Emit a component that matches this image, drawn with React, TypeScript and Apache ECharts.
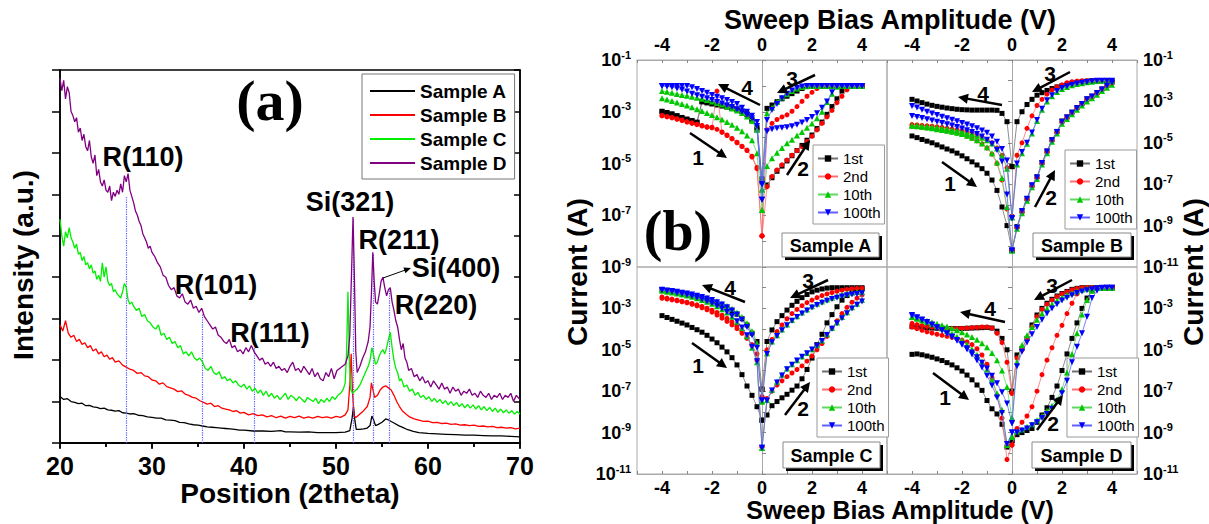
import React, { useEffect, useRef } from "react";
import * as echarts from "echarts";

const FONT = '"Liberation Sans", Arial, sans-serif';
const SERIF = '"Liberation Serif", "Times New Roman", serif';

// ---------- Panel (a): XRD patterns ----------
const XRD_NAMES = ["Sample A", "Sample B", "Sample C", "Sample D"];
const XRD_COLORS = ["#000000", "#ff0000", "#00ee00", "#800080"];

const TH_A = [20,20.4,20.8,21.2,21.6,22,22.4,22.8,23.2,23.6,24,24.4,24.8,25.2,25.6,26,26.4,26.8,27.2,27.6,28,28.5,29,29.5,30,30.5,31,31.5,32,32.5,33,33.5,34,34.5,35,35.5,36,36.5,37,37.5,38,38.5,39,39.5,40,41,42,43,44,44.5,45,46,47,48,49,50,51,51.5,51.75,51.9,52.05,52.2,52.6,53,53.4,53.7,53.9,54.05,54.3,54.6,55,55.4,55.7,56,56.4,56.8,57.3,57.8,58.4,59,60,61,62,63,64,65,66,67,68,69,70];
const INT_A = [1.12,1.05,1.07,1.0,0.98,0.95,0.96,0.9,0.91,0.87,0.86,0.83,0.84,0.8,0.79,0.77,0.78,0.73,0.72,0.7,0.71,0.67,0.66,0.63,0.62,0.6,0.6,0.56,0.55,0.54,0.5,0.49,0.46,0.44,0.43,0.41,0.39,0.38,0.37,0.36,0.35,0.34,0.33,0.31,0.31,0.29,0.29,0.28,0.3,0.27,0.27,0.26,0.27,0.25,0.25,0.25,0.26,0.3,0.6,0.88,0.55,0.33,0.33,0.34,0.36,0.42,0.65,0.58,0.42,0.45,0.5,0.58,0.56,0.52,0.47,0.42,0.37,0.32,0.28,0.25,0.23,0.22,0.21,0.2,0.19,0.19,0.18,0.17,0.17,0.16,0.15];

const TH_B = [20,20.3,20.6,20.9,21.2,21.5,21.8,22.1,22.4,22.7,23,23.3,23.6,23.9,24.2,24.5,24.8,25.1,25.4,25.7,26,26.4,26.8,27.2,27.6,28,28.4,28.8,29.2,29.6,30,30.4,30.8,31.2,31.6,32,32.4,32.8,33.2,33.6,34,34.4,34.8,35.2,35.6,36,36.4,36.8,37.2,37.6,38,38.4,38.8,39.2,39.6,40,40.5,41,41.5,42,42.5,43,43.5,44,44.5,45,45.5,46,46.5,47,47.5,48,48.5,49,49.5,50,50.5,51,51.3,51.5,51.65,51.8,51.95,52.2,52.6,53,53.4,53.7,53.85,54,54.2,54.5,54.8,55.1,55.4,55.7,56,56.3,56.6,56.9,57.2,57.6,58,58.5,59,59.5,60,60.5,61,61.5,62,62.5,63,63.5,64,64.5,65,65.5,66,66.5,67,67.5,68,68.5,69,69.5,70];
const INT_B = [2.85,2.7,2.95,2.65,2.55,2.6,2.45,2.5,2.38,2.42,2.3,2.35,2.22,2.27,2.15,2.2,2.08,2.12,2.02,2.06,1.95,1.98,1.88,1.83,1.78,1.75,1.68,1.7,1.62,1.6,1.52,1.5,1.42,1.45,1.36,1.33,1.3,1.24,1.26,1.18,1.15,1.1,1.08,1.02,0.98,0.94,0.96,0.88,0.9,0.84,0.82,0.8,0.76,0.78,0.72,0.74,0.68,0.71,0.66,0.68,0.63,0.66,0.61,0.65,0.6,0.64,0.61,0.65,0.6,0.63,0.6,0.64,0.61,0.63,0.6,0.64,0.62,0.68,0.8,1.4,2.15,1.2,0.65,0.62,0.7,0.78,0.88,1.1,1.45,1.3,1.1,1.15,1.28,1.35,1.38,1.33,1.28,1.15,1.0,0.88,0.78,0.7,0.63,0.58,0.55,0.52,0.53,0.49,0.5,0.47,0.48,0.45,0.46,0.43,0.44,0.42,0.43,0.4,0.41,0.39,0.4,0.37,0.38,0.36,0.37,0.34,0.36];

const TH_C = [20,20.2,20.4,20.6,20.8,21,21.2,21.4,21.6,21.8,22,22.2,22.4,22.6,22.8,23,23.2,23.4,23.6,23.8,24,24.2,24.4,24.6,24.8,25,25.2,25.4,25.6,25.8,26,26.2,26.4,26.6,26.8,27,27.2,27.4,27.6,27.8,28,28.3,28.6,28.9,29.2,29.5,29.8,30.1,30.4,30.7,31,31.3,31.6,31.9,32.2,32.5,32.8,33.1,33.4,33.7,34,34.3,34.6,34.9,35.2,35.5,35.8,36.1,36.4,36.7,37,37.3,37.6,37.9,38.2,38.5,38.8,39.1,39.4,39.7,40,40.3,40.6,40.9,41.2,41.5,41.8,42.1,42.4,42.7,43,43.3,43.6,43.9,44.2,44.5,44.8,45.1,45.4,45.7,46,46.3,46.6,46.9,47.2,47.5,47.8,48.1,48.4,48.7,49,49.3,49.6,49.9,50.2,50.5,50.8,51,51.15,51.3,51.45,51.6,51.8,52,52.3,52.6,52.9,53.2,53.5,53.7,53.9,54.1,54.3,54.5,54.7,54.9,55.1,55.3,55.5,55.7,55.9,56.1,56.3,56.5,56.7,56.9,57.1,57.4,57.7,58,58.3,58.6,58.9,59.2,59.5,59.8,60.1,60.4,60.7,61,61.3,61.6,61.9,62.2,62.5,62.8,63.1,63.4,63.7,64,64.3,64.6,64.9,65.2,65.5,65.8,66.1,66.4,66.7,67,67.3,67.6,67.9,68.2,68.5,68.8,69.1,69.4,69.7,70];
const INT_C = [5.4,5.0,4.75,5.1,4.95,5.2,4.95,4.85,4.7,4.8,4.55,4.6,4.4,4.5,4.3,4.35,4.2,4.3,4.1,4.15,3.95,4.05,3.9,4.35,4.0,4.25,3.9,3.8,3.85,3.65,3.7,3.6,3.55,3.5,3.65,3.85,3.75,3.45,3.35,3.4,3.3,3.2,3.25,3.05,3.1,2.95,2.9,2.8,2.75,2.85,2.6,2.65,2.5,2.55,2.4,2.45,2.3,2.35,2.15,2.2,2.1,2.2,2.05,2.0,2.05,1.95,1.8,1.75,1.85,1.7,1.65,1.72,1.55,1.6,1.5,1.55,1.45,1.5,1.4,1.35,1.42,1.3,1.38,1.25,1.32,1.2,1.28,1.15,1.25,1.12,1.2,1.08,1.15,1.05,1.12,1.2,1.05,1.15,1.1,1.02,1.12,1.05,0.98,1.1,1.05,1.0,1.08,0.95,1.05,0.98,1.08,1.0,1.12,1.05,1.15,1.2,1.3,1.45,2.2,3.65,2.0,1.3,1.2,1.25,1.3,1.4,1.55,1.7,1.85,2.0,2.3,2.1,1.9,1.95,2.1,2.2,2.25,2.15,2.3,2.5,2.67,2.3,2.0,1.8,1.7,1.5,1.55,1.35,1.4,1.25,1.3,1.15,1.22,1.1,1.15,1.05,1.12,1.0,1.08,0.98,1.05,0.95,1.02,0.92,1.0,0.9,0.98,0.88,0.95,0.85,0.93,0.84,0.92,0.82,0.9,0.8,0.88,0.78,0.86,0.76,0.84,0.74,0.82,0.73,0.8,0.72,0.78,0.7,0.76,0.7];

const TH_D = [20,20.2,20.4,20.6,20.8,21,21.2,21.4,21.6,21.8,22,22.2,22.4,22.6,22.8,23,23.2,23.4,23.6,23.8,24,24.2,24.4,24.6,24.8,25,25.2,25.4,25.6,25.8,26,26.2,26.4,26.6,26.8,27,27.2,27.4,27.6,27.8,28,28.2,28.4,28.6,28.8,29,29.2,29.4,29.6,29.8,30,30.3,30.6,30.9,31.2,31.5,31.8,32.1,32.4,32.7,33,33.3,33.6,33.9,34.2,34.5,34.8,35.1,35.4,35.7,36,36.3,36.6,36.9,37.2,37.5,37.8,38.1,38.4,38.7,39,39.3,39.6,39.9,40.2,40.5,40.8,41.1,41.4,41.7,42,42.3,42.6,42.9,43.2,43.5,43.8,44.1,44.4,44.7,45,45.3,45.6,45.9,46.2,46.5,46.8,47.1,47.4,47.7,48,48.3,48.6,48.9,49.2,49.5,49.8,50.1,50.4,50.7,51,51.3,51.5,51.7,51.85,52,52.15,52.3,52.6,52.9,53.2,53.5,53.7,53.85,54,54.15,54.3,54.5,54.7,54.9,55.1,55.3,55.5,55.7,55.9,56.1,56.3,56.5,56.7,56.9,57.1,57.3,57.5,57.7,57.9,58.2,58.5,58.8,59.1,59.4,59.7,60,60.3,60.6,60.9,61.2,61.5,61.8,62.1,62.4,62.7,63,63.3,63.6,63.9,64.2,64.5,64.8,65.1,65.4,65.7,66,66.3,66.6,66.9,67.2,67.5,67.8,68.1,68.4,68.7,69,69.3,69.6,70];
const INT_D = [8.8,8.5,8.75,8.3,8.6,8.45,8.0,7.9,7.75,7.85,7.5,7.6,7.3,7.45,7.15,7.05,7.3,6.9,6.75,6.95,6.45,6.6,6.3,6.2,6.35,6.1,6.05,6.2,5.85,6.05,5.95,6.1,6.0,6.25,6.05,6.45,6.3,6.5,6.1,5.95,5.8,5.6,5.5,5.35,5.25,5.05,4.95,4.85,4.7,4.75,4.6,4.5,4.35,4.25,4.05,4.0,3.8,3.7,3.75,3.55,3.5,3.6,3.4,3.35,3.45,3.25,3.3,3.15,3.25,3.05,2.95,2.85,2.75,2.8,2.6,2.55,2.45,2.4,2.5,2.3,2.35,2.2,2.25,2.15,2.3,2.2,2.35,2.2,2.1,2.0,2.05,1.9,1.95,1.85,1.95,1.8,1.85,1.75,1.8,1.7,1.85,1.95,1.75,1.8,1.7,1.85,1.75,1.65,1.8,1.6,1.7,1.55,1.5,1.7,1.6,1.8,1.55,1.75,1.8,1.85,1.9,2.1,2.6,4.2,5.45,4.0,2.2,1.7,1.85,2.05,2.2,2.45,2.8,3.6,4.6,3.9,3.4,3.35,3.6,3.9,4.0,3.75,3.55,3.7,3.75,3.4,3.2,2.95,2.8,2.5,2.25,2.4,2.05,1.95,1.75,1.8,1.6,1.65,1.5,1.6,1.45,1.5,1.35,1.5,1.4,1.3,1.45,1.3,1.35,1.2,1.35,1.25,1.3,1.15,1.25,1.2,1.3,1.15,1.2,1.1,1.25,1.15,1.1,1.2,1.05,1.15,1.1,1.2,1.05,1.15,1.1,1.2,1.0,1.15,1.05];

const XRD_TH = [TH_A, TH_B, TH_C, TH_D];
const XRD_INT = [INT_A, INT_B, INT_C, INT_D];

// reference-peak dotted lines (2theta, height)
const REF_POS = [27.2, 35.5, 41.1, 51.9, 54.0, 55.8];
const REF_TOP = [5.93, 3.1, 2.3, 5.4, 4.55, 3.75];

// peak annotations (text, centre px)
const PEAK_TEXT = ["R(110)", "R(101)", "R(111)", "Si(321)", "R(211)", "Si(400)", "R(220)"];
const PEAK_X = [143, 216, 270, 350, 399, 456, 436];
const PEAK_Y = [157, 285, 333, 202, 240, 268, 305];

// ---------- Panel (b): I-V loops, values are log10(I / A) ----------
const VL = [-4,-3.8,-3.6,-3.4,-3.2,-3,-2.8,-2.6,-2.4,-2.2,-2,-1.8,-1.6,-1.4,-1.2,-1,-0.8,-0.6,-0.4,-0.2,0];
const VR = [0,0.2,0.4,0.6,0.8,1,1.2,1.4,1.6,1.8,2,2.2,2.4,2.6,2.8,3,3.2,3.4,3.6,3.8,4];
const CYCLES = ["1st", "2nd", "10th", "100th"];

// each: [branch1 (-4..0), branch2 (0..4), branch3 (0..4), branch4 (-4..0)]
const A_1ST = [
  [-3.0,-3.05,-3.1,-3.17,-3.24,-3.3,-3.36,-3.42,-2.62,-2.66,-2.7,-2.74,-2.78,-2.82,-2.87,-2.93,-3.0,-3.12,-3.35,-3.7,-5.7],
  [-5.7,-5.83,-5.55,-5.3,-5.1,-4.9,-4.7,-4.5,-4.3,-4.1,-3.9,-3.65,-3.4,-3.1,-2.8,-2.5,-2.2,-2.0,-2.0,-2.0,-2.0],
  [-5.6,-2.87,-2.74,-2.61,-2.5,-2.4,-2.3,-2.2,-2.1,-2.03,-2.0,-2.0,-2.0,-2.0,-2.0,-2.0,-2.0,-2.0,-2.0,-2.0,-2.0],
  [-2.98,-3.03,-3.08,-3.15,-3.22,-3.28,-3.34,-3.4,-2.6,-2.64,-2.68,-2.72,-2.76,-2.8,-2.85,-2.9,-2.97,-3.08,-3.3,-3.6,-5.6],
];
const A_2ND = [
  [-3.16,-3.2,-3.24,-3.29,-3.34,-3.4,-3.45,-3.5,-3.55,-3.6,-3.62,-2.2,-3.8,-3.92,-4.05,-4.2,-4.35,-4.5,-4.75,-5.2,-7.8],
  [-7.8,-5.9,-5.5,-5.25,-5.05,-4.87,-4.68,-4.5,-4.35,-4.15,-3.95,-3.7,-3.45,-3.2,-2.95,-2.65,-2.4,-2.15,-2.0,-2.0,-2.0],
  [-7.8,-3.7,-3.45,-3.3,-3.2,-3.12,-2.98,-2.8,-2.6,-2.4,-2.25,-2.1,-2.02,-2.0,-2.0,-2.0,-2.0,-2.0,-2.0,-2.0,-2.0],
  [-3.14,-3.18,-3.22,-3.27,-3.32,-3.38,-3.43,-3.48,-3.53,-3.58,-3.6,-3.68,-3.78,-3.9,-4.03,-4.18,-4.33,-4.48,-4.72,-5.15,-7.8],
];
const A_10TH = [
  [-2.48,-2.53,-2.58,-2.64,-2.7,-2.76,-2.83,-2.9,-2.97,-3.05,-3.13,-3.21,-3.3,-3.4,-3.5,-3.62,-3.75,-3.92,-4.1,-4.6,-6.8],
  [-6.8,-5.1,-4.8,-4.58,-4.4,-4.22,-4.08,-3.92,-3.78,-3.62,-3.45,-3.25,-3.0,-2.62,-2.3,-2.03,-2.0,-2.0,-2.0,-2.0,-2.0],
  [-6.0,-3.06,-2.85,-2.62,-2.45,-2.32,-2.2,-2.1,-2.04,-2.0,-2.0,-2.0,-2.0,-2.0,-2.0,-2.0,-2.0,-2.0,-2.0,-2.0,-2.0],
  [-2.2,-2.23,-2.27,-2.31,-2.35,-2.38,-2.42,-2.46,-2.5,-2.55,-2.6,-2.66,-2.72,-2.8,-2.87,-2.95,-3.05,-3.18,-3.35,-3.7,-6.0],
];
const A_100TH = [
  [-2.0,-2.02,-2.05,-2.1,-2.15,-2.22,-2.3,-2.36,-2.42,-2.48,-2.55,-2.62,-2.68,-2.75,-2.82,-2.9,-3.0,-3.12,-3.25,-3.55,-6.4],
  [-6.4,-3.75,-3.68,-3.64,-3.62,-3.6,-3.56,-3.5,-3.42,-3.32,-3.2,-3.06,-2.85,-2.6,-2.25,-2.0,-2.0,-2.0,-2.0,-2.0,-2.0],
  [-5.8,-3.32,-2.93,-2.7,-2.48,-2.3,-2.18,-2.08,-2.02,-2.0,-2.0,-2.0,-2.0,-2.0,-2.0,-2.0,-2.0,-2.0,-2.0,-2.0,-2.0],
  [-2.0,-2.0,-2.0,-2.0,-2.0,-2.0,-2.05,-2.12,-2.2,-2.27,-2.35,-2.42,-2.48,-2.55,-2.62,-2.7,-2.85,-3.0,-3.15,-3.4,-5.8],
];
const B_1ST = [
  [-4.67,-4.75,-4.84,-4.92,-5.0,-5.1,-5.2,-5.3,-5.39,-5.5,-5.63,-5.77,-5.92,-6.07,-6.25,-6.47,-6.8,-7.3,-8.1,-9.0,-10.2],
  [-10.2,-9.05,-8.3,-7.7,-7.05,-6.64,-5.95,-5.4,-4.85,-4.45,-3.95,-3.75,-3.52,-3.3,-3.1,-2.88,-2.75,-2.58,-2.4,-2.22,-2.08],
  [-6.15,-3.98,-3.5,-3.15,-2.9,-2.7,-2.58,-2.47,-2.38,-2.3,-2.24,-2.17,-2.12,-2.08,-2.05,-2.02,-2.0,-2.0,-2.0,-2.0,-2.0],
  [-2.9,-2.98,-3.06,-3.13,-3.19,-3.24,-3.28,-3.32,-3.35,-3.38,-3.4,-3.41,-3.42,-3.42,-3.42,-3.42,-3.42,-3.43,-3.58,-3.98,-6.15],
];
const B_2ND = [
  [-4.2,-4.22,-4.25,-4.28,-4.31,-4.35,-4.39,-4.43,-4.48,-4.53,-4.6,-4.68,-4.78,-4.9,-5.05,-5.25,-5.55,-6.0,-6.8,-8.2,-10.2],
  [-10.2,-9.1,-8.35,-7.75,-7.1,-6.7,-6.0,-5.45,-4.9,-4.5,-4.0,-3.8,-3.56,-3.34,-3.14,-2.92,-2.78,-2.62,-2.44,-2.26,-2.12],
  [-8.55,-5.6,-5.0,-4.3,-3.7,-3.2,-2.9,-2.65,-2.45,-2.3,-2.2,-2.1,-2.05,-2.02,-2.0,-2.0,-2.0,-2.0,-2.0,-2.0,-2.0],
  [-4.12,-4.14,-4.16,-4.18,-4.2,-4.23,-4.26,-4.3,-4.34,-4.38,-4.43,-4.48,-4.55,-4.63,-4.72,-4.85,-5.0,-5.25,-5.6,-6.2,-8.55],
];
const B_10TH = [
  [-4.18,-4.2,-4.23,-4.26,-4.3,-4.34,-4.38,-4.42,-4.47,-4.52,-4.58,-4.66,-4.76,-4.88,-5.03,-5.22,-5.5,-5.95,-6.7,-8.1,-10.2],
  [-10.2,-9.15,-8.4,-7.8,-7.15,-6.75,-6.05,-5.5,-4.95,-4.55,-4.08,-3.85,-3.62,-3.4,-3.2,-3.0,-2.85,-2.68,-2.5,-2.34,-2.2],
  [-8.6,-6.05,-5.5,-5.05,-4.55,-3.95,-3.4,-3.0,-2.75,-2.55,-2.4,-2.3,-2.22,-2.16,-2.12,-2.08,-2.05,-2.02,-2.0,-2.0,-2.0],
  [-4.15,-4.17,-4.19,-4.21,-4.23,-4.26,-4.29,-4.33,-4.37,-4.41,-4.46,-4.51,-4.58,-4.66,-4.75,-4.88,-5.03,-5.28,-5.62,-6.25,-8.6],
];
const B_100TH = [
  [-3.7,-3.75,-3.8,-3.86,-3.92,-3.98,-4.04,-4.1,-4.17,-4.24,-4.31,-4.39,-4.48,-4.58,-4.7,-4.85,-5.05,-5.35,-5.9,-7.5,-10.2],
  [-10.2,-9.1,-8.3,-7.7,-7.05,-6.68,-5.98,-5.42,-4.88,-4.48,-3.98,-3.78,-3.55,-3.33,-3.12,-2.9,-2.76,-2.6,-2.42,-2.24,-2.1],
  [-8.65,-6.0,-5.45,-5.0,-4.5,-3.9,-3.35,-2.95,-2.7,-2.5,-2.35,-2.27,-2.2,-2.14,-2.1,-2.06,-2.03,-2.0,-2.0,-2.0,-2.0],
  [-3.22,-3.3,-3.4,-3.5,-3.58,-3.66,-3.74,-3.82,-3.89,-3.96,-4.04,-4.12,-4.2,-4.3,-4.4,-4.52,-4.7,-4.95,-5.3,-5.85,-8.65],
];
const C_1ST = [
  [-3.35,-3.44,-3.53,-3.62,-3.71,-3.8,-3.92,-4.03,-4.15,-4.3,-4.48,-4.66,-4.87,-5.1,-5.38,-5.73,-6.2,-6.75,-7.2,-7.75,-8.4],
  [-8.4,-8.15,-7.7,-7.5,-7.32,-7.15,-6.95,-6.75,-6.4,-5.95,-5.4,-4.75,-4.25,-3.7,-3.3,-2.92,-2.6,-2.38,-2.2,-2.1,-2.05],
  [-6.9,-4.6,-4.04,-3.64,-3.35,-3.08,-2.85,-2.66,-2.48,-2.33,-2.2,-2.12,-2.06,-2.02,-2.0,-2.0,-2.0,-2.0,-2.0,-2.0,-2.0],
  [-2.11,-2.14,-2.18,-2.22,-2.27,-2.32,-2.38,-2.45,-2.52,-2.6,-2.68,-2.77,-2.87,-2.98,-3.12,-3.28,-3.5,-3.8,-4.2,-4.6,-6.9],
];
const C_2ND = [
  [-2.45,-2.5,-2.55,-2.6,-2.65,-2.7,-2.76,-2.83,-2.9,-2.99,-3.09,-3.2,-3.33,-3.48,-3.65,-3.85,-4.1,-4.4,-4.8,-5.5,-9.7],
  [-9.7,-7.35,-7.0,-6.7,-6.5,-6.3,-6.12,-5.95,-5.78,-5.55,-5.3,-5.0,-4.7,-4.35,-3.95,-3.6,-3.25,-2.95,-2.7,-2.5,-2.35],
  [-7.26,-5.0,-4.5,-4.12,-3.8,-3.5,-3.25,-3.05,-2.87,-2.72,-2.6,-2.48,-2.38,-2.3,-2.23,-2.17,-2.12,-2.08,-2.05,-2.03,-2.02],
  [-2.51,-2.55,-2.59,-2.63,-2.68,-2.73,-2.8,-2.88,-2.97,-3.07,-3.18,-3.32,-3.47,-3.63,-3.8,-3.98,-4.2,-4.45,-4.75,-5.2,-7.26],
];
const C_10TH = [
  [-2.15,-2.19,-2.23,-2.28,-2.33,-2.38,-2.44,-2.51,-2.59,-2.68,-2.78,-2.9,-3.04,-3.2,-3.4,-3.65,-3.95,-4.35,-4.9,-5.6,-9.73],
  [-9.73,-7.42,-6.94,-6.54,-6.2,-5.9,-5.7,-5.5,-5.32,-5.15,-4.97,-4.78,-4.55,-4.25,-3.95,-3.68,-3.42,-3.18,-2.95,-2.77,-2.6],
  [-7.5,-5.17,-4.6,-4.3,-4.02,-3.78,-3.56,-3.38,-3.2,-3.05,-2.9,-2.78,-2.67,-2.57,-2.48,-2.4,-2.33,-2.28,-2.24,-2.21,-2.2],
  [-2.08,-2.11,-2.14,-2.18,-2.22,-2.26,-2.31,-2.36,-2.42,-2.49,-2.57,-2.66,-2.76,-2.88,-3.02,-3.2,-3.42,-3.72,-4.1,-4.7,-7.5],
];
const C_100TH = [
  [-2.12,-2.16,-2.2,-2.25,-2.3,-2.35,-2.41,-2.48,-2.56,-2.65,-2.75,-2.87,-3.01,-3.17,-3.37,-3.62,-3.92,-4.3,-4.85,-5.55,-9.73],
  [-9.73,-7.45,-6.97,-6.58,-6.24,-5.94,-5.72,-5.52,-5.34,-5.17,-4.99,-4.8,-4.58,-4.28,-3.98,-3.72,-3.47,-3.23,-3.0,-2.82,-2.67],
  [-7.45,-5.2,-4.63,-4.33,-4.06,-3.82,-3.6,-3.42,-3.25,-3.1,-2.96,-2.84,-2.73,-2.63,-2.55,-2.48,-2.42,-2.37,-2.33,-2.3,-2.27],
  [-2.1,-2.13,-2.16,-2.2,-2.24,-2.28,-2.33,-2.39,-2.45,-2.52,-2.6,-2.7,-2.81,-2.94,-3.1,-3.3,-3.55,-3.9,-4.3,-4.9,-7.45],
];
const D_1ST = [
  [-5.22,-5.2,-5.24,-5.3,-5.36,-5.44,-5.52,-5.62,-5.73,-5.87,-6.03,-6.22,-6.45,-6.7,-6.96,-7.45,-7.85,-8.1,-8.6,-9.7,-9.4],
  [-9.4,-9.1,-9.0,-8.9,-8.8,-8.5,-8.15,-7.8,-7.3,-6.75,-6.0,-5.2,-4.45,-3.7,-3.0,-2.5,-2.15,-2.02,-2.0,-2.0,-2.0],
  [-7.0,-5.25,-4.93,-4.45,-3.8,-3.32,-3.0,-2.75,-2.56,-2.4,-2.28,-2.18,-2.08,-2.03,-2.0,-2.0,-2.0,-2.0,-2.0,-2.0,-2.0],
  [-3.88,-3.9,-3.92,-3.94,-3.95,-3.96,-3.96,-3.97,-3.97,-3.97,-3.97,-3.96,-3.95,-3.94,-3.93,-3.92,-3.95,-4.1,-4.45,-5.0,-7.0],
];
const D_2ND = [
  [-3.9,-3.98,-4.06,-4.13,-4.19,-4.25,-4.3,-4.35,-4.4,-4.46,-4.53,-4.62,-4.75,-4.95,-5.25,-5.7,-6.35,-7.2,-8.3,-10.3,-9.6],
  [-9.6,-8.8,-8.5,-8.2,-7.75,-7.0,-6.2,-5.5,-4.9,-4.3,-3.82,-3.25,-2.75,-2.3,-2.06,-2.0,-2.0,-2.0,-2.0,-2.0,-2.0],
  [-7.1,-5.4,-5.0,-4.5,-3.9,-3.4,-3.05,-2.8,-2.6,-2.43,-2.3,-2.2,-2.1,-2.04,-2.0,-2.0,-2.0,-2.0,-2.0,-2.0,-2.0],
  [-3.72,-3.78,-3.83,-3.87,-3.9,-3.93,-3.95,-3.96,-3.97,-3.97,-3.96,-3.95,-3.93,-3.92,-3.9,-3.9,-3.95,-4.2,-4.65,-5.6,-7.1],
];
const D_10TH = [
  [-3.42,-3.5,-3.58,-3.67,-3.76,-3.86,-3.97,-4.09,-4.22,-4.37,-4.54,-4.74,-4.97,-5.24,-5.56,-5.95,-6.45,-7.1,-7.9,-9.6,-9.2],
  [-9.2,-8.95,-8.85,-8.72,-8.6,-8.4,-8.2,-7.95,-7.7,-7.4,-6.9,-6.1,-5.2,-4.2,-3.3,-2.6,-2.15,-2.02,-2.0,-2.0,-2.0],
  [-8.3,-5.6,-4.77,-4.3,-3.9,-3.55,-3.25,-3.0,-2.8,-2.62,-2.47,-2.35,-2.25,-2.17,-2.1,-2.05,-2.02,-2.0,-2.0,-2.0,-2.0],
  [-3.4,-3.46,-3.53,-3.6,-3.67,-3.74,-3.81,-3.88,-3.96,-4.05,-4.15,-4.26,-4.38,-4.52,-4.68,-4.88,-5.15,-5.5,-6.0,-6.8,-8.3],
];
const D_100TH = [
  [-3.35,-3.45,-3.56,-3.68,-3.8,-3.93,-4.07,-4.22,-4.38,-4.56,-4.76,-4.98,-5.23,-5.52,-5.86,-6.25,-6.72,-7.3,-8.05,-9.55,-9.0],
  [-9.0,-9.0,-8.9,-8.8,-8.65,-8.5,-8.3,-8.1,-7.85,-7.5,-7.1,-6.5,-5.6,-4.85,-4.2,-3.4,-2.5,-2.15,-2.02,-2.0,-2.0],
  [-8.55,-5.8,-5.09,-4.65,-4.25,-3.9,-3.55,-3.25,-3.0,-2.8,-2.62,-2.48,-2.36,-2.26,-2.18,-2.12,-2.07,-2.03,-2.0,-2.0,-2.0],
  [-3.32,-3.43,-3.54,-3.66,-3.78,-3.91,-4.05,-4.2,-4.36,-4.53,-4.72,-4.92,-5.13,-5.36,-5.62,-5.9,-6.25,-6.62,-7.05,-7.6,-8.55],
];

const PANEL_CURVES = [
  [A_1ST, A_2ND, A_10TH, A_100TH],
  [B_1ST, B_2ND, B_10TH, B_100TH],
  [C_1ST, C_2ND, C_10TH, C_100TH],
  [D_1ST, D_2ND, D_10TH, D_100TH],
];
const PANEL_NAMES = ["Sample A", "Sample B", "Sample C", "Sample D"];
const PANEL_YMIN = [-9, -11, -11, -11];
const PANEL_YMAX = [-1, -1, -1, -1];

// ---------- style tables ----------
const CYCLE_COLORS = ["#000000", "#ff0000", "#00c800", "#0000ff"];
const CYCLE_LINES = ["#707070", "#ff7070", "#60d860", "#6060ff"];
const CYCLE_SYMBOLS = ["rect", "circle", "triangle", "triangle"];
const CYCLE_ROT = [0, 0, 0, 180];
const CYCLE_SIZE = [5, 5, 6, 6];

const GRIDS_B = [
  { left: 637, top: 60, width: 250, height: 207 },
  { left: 887, top: 60, width: 250, height: 207 },
  { left: 637, top: 267, width: 250, height: 207 },
  { left: 887, top: 267, width: 250, height: 207 },
];
const LEGEND_B = [
  { left: 813, top: 145 },
  { left: 1065, top: 150 },
  { left: 817, top: 358 },
  { left: 1067, top: 358 },
];
const BOX_B = [
  { x: 782, y: 233, w: 97, h: 24 },
  { x: 1033, y: 233, w: 98, h: 24 },
  { x: 783, y: 442, w: 97, h: 26 },
  { x: 1032, y: 442, w: 99, h: 26 },
];
// arrows: [tailX, tailY, headX, headY, labelX, labelY]
const ARROWS_B = [
  [[690,133,727,158,698,157],[787,175,810,140,803,168],[815,75,777,93,792,78],[760,105,718,84,747,87]],
  [[942,162,977,187,950,183],[1035,207,1055,170,1051,197],[1070,72,1032,92,1050,73],[1002,105,958,97,983,93]],
  [[692,343,727,368,698,365],[785,415,810,382,803,408],[828,280,790,298,808,280],[745,302,702,285,730,287]],
  [[933,373,969,400,945,397],[1037,430,1063,395,1053,423],[1072,280,1034,300,1052,285],[1005,322,960,312,990,308]],
];

function loopPoints(br: number[][]) {
  const pts: number[][] = [];
  VL.forEach((v, i) => pts.push([v, br[0][i]]));
  VR.forEach((v, i) => pts.push([v, br[1][i]]));
  for (let i = VR.length - 1; i >= 0; i--) pts.push([VR[i], br[2][i]]);
  for (let i = VL.length - 1; i >= 0; i--) pts.push([VL[i], br[3][i]]);
  return pts;
}

function txt(x: number, y: number, text: string, size: number, opts: any = {}) {
  return {
    type: "text",
    x,
    y,
    rotation: opts.rotation || 0,
    z: 110,
    style: {
      text,
      fill: "#000",
      font: `${opts.weight || "bold"} ${size}px ${opts.family || FONT}`,
      textAlign: "center",
      textVerticalAlign: "middle",
      align: "center",
      verticalAlign: "middle",
    },
  };
}

function arrow(x1: number, y1: number, x2: number, y2: number, w = 2.5, hl = 10, hw = 5) {
  const dx = x2 - x1;
  const dy = y2 - y1;
  const L = Math.hypot(dx, dy);
  const ux = dx / L;
  const uy = dy / L;
  const bx = x2 - ux * hl;
  const by = y2 - uy * hl;
  return [
    { type: "line", z: 110, shape: { x1, y1, x2: bx + ux, y2: by + uy }, style: { stroke: "#000", lineWidth: w } },
    {
      type: "polygon",
      z: 110,
      shape: { points: [[x2, y2], [bx - uy * hw, by + ux * hw], [bx + uy * hw, by - ux * hw]] },
      style: { fill: "#000" },
    },
  ];
}

function sampleBox(b: { x: number; y: number; w: number; h: number }, label: string) {
  return [
    { type: "rect", z: 100, shape: { x: b.x + 3, y: b.y + 3, width: b.w, height: b.h }, style: { fill: "#000" } },
    { type: "rect", z: 101, shape: { x: b.x, y: b.y, width: b.w, height: b.h }, style: { fill: "#fff", stroke: "#888", lineWidth: 1 } },
    txt(b.x + b.w / 2, b.y + b.h / 2 + 1, label, 18),
  ];
}

function buildOption() {
  const grid: any[] = [{ left: 60, top: 70, width: 460, height: 373, show: true, borderColor: "#000", borderWidth: 1.5 }];
  GRIDS_B.forEach((g) => grid.push({ ...g, show: true, borderColor: "#aaa", borderWidth: 1 }));

  const axisA = { lineStyle: { color: "#000", width: 1.5 } };
  const xAxis: any[] = [
    {
      gridIndex: 0, type: "value", min: 20, max: 70, interval: 10, position: "bottom",
      axisLine: axisA,
      axisTick: { inside: false, length: 6, lineStyle: { color: "#000", width: 1.5 } },
      minorTick: { show: true, splitNumber: 2, length: 4, lineStyle: { color: "#000", width: 1.5 } },
      axisLabel: { fontSize: 25, fontWeight: "bold", fontFamily: FONT, color: "#000", margin: 10 },
      splitLine: { show: false }, minorSplitLine: { show: false },
    },
    {
      gridIndex: 0, type: "value", min: 20, max: 70, interval: 10, position: "top",
      axisLine: axisA,
      axisTick: { inside: true, length: 5, lineStyle: { color: "#000", width: 1.5 } },
      minorTick: { show: true, splitNumber: 2, length: 4, lineStyle: { color: "#000", width: 1.5 } },
      axisLabel: { show: false }, splitLine: { show: false },
    },
  ];
  const yAxis: any[] = [
    {
      gridIndex: 0, type: "value", min: 0, max: 9, interval: 1, position: "left",
      axisLine: axisA,
      axisTick: { inside: false, length: 8, lineStyle: { color: "#000", width: 1.5 } },
      axisLabel: { show: false }, splitLine: { show: false },
    },
    {
      gridIndex: 0, type: "value", min: 0, max: 9, interval: 1, position: "right",
      axisLine: axisA,
      axisTick: { inside: true, length: 6, lineStyle: { color: "#000", width: 1.5 } },
      axisLabel: { show: false }, splitLine: { show: false },
    },
  ];

  const rich = {
    b: { fontSize: 18, fontWeight: "bold", fontFamily: FONT, color: "#000", lineHeight: 22 },
    s: { fontSize: 11, fontWeight: "bold", fontFamily: FONT, color: "#000", lineHeight: 12, verticalAlign: "top" },
  };

  GRIDS_B.forEach((_, p) => {
    const top = p < 2;
    xAxis.push({
      gridIndex: p + 1, type: "value", min: -5, max: 5, interval: 1, position: top ? "top" : "bottom",
      axisLine: { lineStyle: { color: "#aaa" } },
      axisTick: { inside: true, length: 3, lineStyle: { color: "#888" } },
      axisLabel: {
        fontSize: 18, fontWeight: "bold", fontFamily: FONT, color: "#000", margin: top ? 6 : 5,
        formatter: (v: number) => (Math.round(v) % 2 === 0 ? String(Math.round(v)) : ""),
      },
      splitLine: { show: false },
    });
    const right = p % 2 === 1;
    const hideTop = p >= 2;
    yAxis.push({
      gridIndex: p + 1, type: "value", min: PANEL_YMIN[p], max: PANEL_YMAX[p], interval: 1,
      position: right ? "right" : "left",
      axisLine: { lineStyle: { color: "#aaa" } },
      axisTick: { inside: true, length: 4, lineStyle: { color: "#888" } },
      axisLabel: {
        margin: 6,
        formatter: (v: number) => {
          const n = Math.round(v);
          if (n % 2 === 0) return "";
          if (hideTop && n === -1) return "";
          return "{b|10}{s|" + n + "}";
        },
        rich,
      },
      splitLine: { show: false },
    });
  });

  const series: any[] = [];
  XRD_NAMES.forEach((name, k) => {
    const s: any = {
      type: "line", name, xAxisIndex: 0, yAxisIndex: 0, showSymbol: false, symbol: "none",
      data: XRD_TH[k].map((t, i) => [t, XRD_INT[k][i]]),
      lineStyle: { color: XRD_COLORS[k], width: 1.3 }, itemStyle: { color: XRD_COLORS[k] },
      z: 3 + k,
    };
    if (k === 0) {
      s.markLine = {
        silent: true, symbol: ["none", "none"], label: { show: false },
        lineStyle: { color: "#5555ff", type: "dotted", width: 1.2 },
        data: REF_POS.map((x, i) => [{ coord: [x, 0] }, { coord: [x, REF_TOP[i]] }]),
      };
    }
    series.push(s);
  });

  PANEL_CURVES.forEach((curves, p) => {
    curves.forEach((br, c) => {
      series.push({
        type: "line", name: CYCLES[c], xAxisIndex: p + 2, yAxisIndex: p + 2,
        data: loopPoints(br),
        symbol: CYCLE_SYMBOLS[c], symbolRotate: CYCLE_ROT[c], symbolSize: CYCLE_SIZE[c], showSymbol: true,
        itemStyle: { color: CYCLE_COLORS[c] },
        lineStyle: { color: CYCLE_LINES[c], width: 0.8 },
        z: 3 + c,
      });
    });
  });

  const legend: any[] = [
    {
      left: 362, top: 74, orient: "vertical", data: XRD_NAMES, selectedMode: false,
      icon: "rect", itemWidth: 45, itemHeight: 2, itemGap: 4, padding: [7, 8, 6, 8],
      textStyle: { fontSize: 19, fontWeight: "bold", fontFamily: FONT, color: "#000", lineHeight: 20 },
      backgroundColor: "#fff", borderColor: "#777", borderWidth: 1,
    },
  ];
  LEGEND_B.forEach((l) =>
    legend.push({
      left: l.left, top: l.top, orient: "vertical", data: CYCLES, selectedMode: false,
      itemWidth: 20, itemHeight: 8, itemGap: 3, padding: [6, 4, 4, 4],
      textStyle: { fontSize: 15, fontFamily: FONT, color: "#000", lineHeight: 15 },
      backgroundColor: "#fff", borderColor: "#999", borderWidth: 1,
    })
  );

  const graphic: any[] = [];
  // panel (a) texts
  graphic.push(txt(270, 100, "(a)", 58, { family: SERIF }));
  graphic.push(txt(23, 265, "Intensity (a.u.)", 28, { rotation: Math.PI / 2 }));
  graphic.push(txt(290, 493, "Position (2theta)", 28));
  PEAK_TEXT.forEach((t, i) => graphic.push(txt(PEAK_X[i], PEAK_Y[i], t, 27)));
  graphic.push(...arrow(383, 278, 411, 268, 1, 7, 3));
  // panel (b) texts
  graphic.push(txt(890, 20, "Sweep Bias Amplitude (V)", 27));
  graphic.push(txt(900, 510, "Sweep Bias Amplitude (V)", 25));
  graphic.push(txt(577, 272, "Current (A)", 28, { rotation: Math.PI / 2 }));
  graphic.push(txt(1193, 272, "Current (A)", 28, { rotation: Math.PI / 2 }));
  graphic.push(txt(678, 231, "(b)", 56, { family: SERIF }));
  BOX_B.forEach((b, p) => graphic.push(...sampleBox(b, PANEL_NAMES[p])));
  ARROWS_B.forEach((arr) =>
    arr.forEach((a, i) => {
      graphic.push(...arrow(a[0], a[1], a[2], a[3]));
      graphic.push(txt(a[4], a[5], String(i + 1), 21));
    })
  );

  return {
    animation: false,
    backgroundColor: "#fff",
    textStyle: { fontFamily: FONT },
    grid,
    xAxis,
    yAxis,
    legend,
    series,
    graphic: { elements: graphic },
  };
}

export default function App() {
  const ref = useRef<HTMLDivElement>(null);
  useEffect(() => {
    if (!ref.current) return;
    const chart = echarts.init(ref.current, undefined, { renderer: "svg" });
    chart.setOption(buildOption() as any);
    return () => chart.dispose();
  }, []);
  return (
    <div
      ref={ref}
      style={{ position: "fixed", left: 0, top: 0, width: 1209, height: 524, background: "#fff" }}
    />
  );
}
